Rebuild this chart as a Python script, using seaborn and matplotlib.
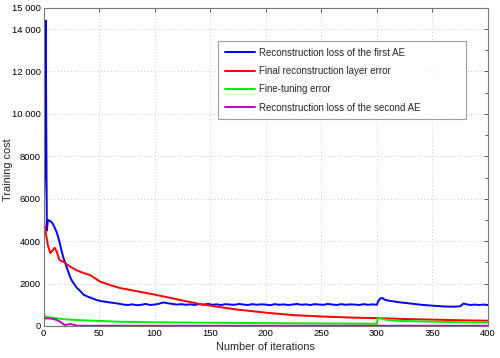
import numpy as np
import pandas as pd
import matplotlib
matplotlib.use("Agg")
import matplotlib.pyplot as plt
import seaborn as sns
from matplotlib.ticker import FixedLocator, MultipleLocator

# ---------------- data ----------------
series_names = ["Reconstruction loss of the first AE",
                "Final reconstruction layer error",
                "Fine-tuning error",
                "Reconstruction loss of the second AE"]
series_colors = ["#0000ff", "#ff0000", "#00ee00", "#c000c0"]

blue_x = [0, 1, 2, 3, 4, 6, 8, 10, 12, 14, 16, 18, 20, 22, 24, 26, 28, 30, 32, 34,
          36, 40, 44, 48, 52, 56,
          60, 64, 68, 72, 76, 80, 84, 88, 92, 96, 100, 104, 108, 112, 116, 120, 124, 128,
          132, 136, 140, 144, 148, 152, 156, 160, 164, 168, 172, 176, 180, 184, 188, 192,
          196, 200, 204, 208, 212, 216, 220, 224, 228, 232, 236, 240, 244, 248, 252, 256,
          260, 264, 268, 272, 276, 280, 284, 288, 292, 296,
          300, 301, 303, 305, 307, 310, 315, 320, 330, 340, 350, 360, 370, 375, 378, 380,
          384, 388, 392, 396, 400]
blue_y = [5000, 7000, 14400, 4500, 5000, 4950, 4850, 4650, 4400, 4050, 3600, 3200, 2900, 2600, 2300,
          2100, 1950, 1800, 1700, 1600, 1480, 1380, 1300, 1220, 1170, 1140,
          1110, 1080, 1050, 1010, 990, 1020, 980, 1000, 1040, 990, 1010, 1050, 1110, 1070, 1040, 1010,
          1030, 1000, 1020, 990, 1030, 1010, 1040, 1000, 1020, 990, 1030, 1010, 1000, 1040, 1010,
          990, 1030, 1000, 1020, 1010, 980, 1030, 1000, 1020, 990, 1010, 1040, 1000, 1020, 990,
          1030, 1010, 1000, 1040, 1010, 990, 1030, 1000, 1020, 1010, 990, 1030, 1000, 1020,
          1000, 1150, 1300, 1320, 1240, 1200, 1160, 1120, 1060, 1000, 960, 920, 910, 930, 1060, 1030,
          990, 1010, 990, 1010, 990]

red_x = [0, 2, 4, 6, 8, 10, 12, 14, 16, 18, 20, 24, 30, 36, 42, 51, 60, 69, 80, 90, 100, 110,
         120, 130, 140, 150, 160, 175, 200, 225, 250, 275, 300, 325, 350, 375, 400]
red_y = [5100, 4400, 3800, 3440, 3550, 3690, 3500, 3150, 3060, 3030, 2950, 2800, 2620, 2500, 2400,
         2090, 1930, 1790, 1680, 1580, 1480, 1370, 1260, 1150, 1040, 960, 880, 770, 630, 510,
         450, 400, 370, 330, 300, 270, 250]

green_x = [0, 1, 2, 3, 5, 8, 12, 20, 30, 45, 69, 100, 141, 200, 250, 299, 300, 301, 305, 310, 320,
           350, 400]
green_y = [560, 520, 350, 430, 410, 390, 360, 315, 280, 250, 200, 175, 157, 135, 120, 108, 108,
           390, 330, 280, 240, 200, 160]

magenta_x = [0, 3, 6, 9, 12, 15, 17, 19, 21, 24, 27, 30, 40, 100, 200, 300, 400]
magenta_y = [380, 360, 350, 330, 280, 200, 120, 47, 60, 94, 60, 15, 10, 10, 10, 10, 10]

xticks = [0, 50, 100, 150, 200, 250, 300, 350, 400]
yticks = [0, 2000, 4000, 6000, 8000, 10000, 12000, 14000, 15000]
ytick_labels = ["0", "2000", "4000", "6000", "8000", "10 000", "12 000", "14 000", "15 000"]

# ---------------- build long-form table ----------------
frames = []
for name, xs, ys in zip(series_names,
                        [blue_x, red_x, green_x, magenta_x],
                        [blue_y, red_y, green_y, magenta_y]):
    frames.append(pd.DataFrame({"iter": xs, "cost": ys, "series": name}))
df = pd.concat(frames, ignore_index=True)

# ---------------- plot ----------------
sns.set_style("white")
plt.rcParams["font.family"] = ["Liberation Sans", "DejaVu Sans"]

fig = plt.figure(figsize=(5.0, 3.58), dpi=100)
ax = fig.add_axes([0.087, 0.0894, 0.889, 0.8886])

sns.lineplot(data=df, x="iter", y="cost", hue="series", hue_order=series_names,
             palette=series_colors, estimator=None, sort=False, linewidth=1.4, ax=ax)

ax.set_xlim(0, 400)
ax.set_ylim(0, 15000)
ax.xaxis.set_major_locator(FixedLocator(xticks))
ax.set_xticklabels([str(t) for t in xticks])
ax.yaxis.set_major_locator(FixedLocator(yticks))
ax.set_yticklabels(ytick_labels)
ax.yaxis.set_minor_locator(MultipleLocator(1000))

ax.tick_params(axis="both", which="both", direction="in", top=True, right=True,
               labelsize=6.8, colors="#444444", labelcolor="black", length=3, width=0.6, pad=2)
ax.tick_params(axis="both", which="minor", length=2)

ax.grid(True, which="major", color="#b8b8b8", linestyle=(0, (1, 3)), linewidth=0.6)
for s in ax.spines.values():
    s.set_color("#777777")
    s.set_linewidth(0.8)

ax.set_xlabel("Number of iterations", fontsize=7.8, labelpad=3)
ax.set_ylabel("Training cost", fontsize=7.8)
ax.yaxis.set_label_coords(-0.068, 0.49)

leg = ax.legend(loc="upper left", bbox_to_anchor=(0.3926, 0.654, 0.558, 0.242),
                mode="expand", fontsize=7, frameon=True, fancybox=False,
                handlelength=3.1, handletextpad=0.45, labelspacing=0.85,
                borderpad=0.7, borderaxespad=0)
leg.get_frame().set_edgecolor("#888888")
leg.get_frame().set_linewidth(0.8)
for line in leg.get_lines():
    line.set_linewidth(1.4)

fig.savefig("out.png", dpi=100)
